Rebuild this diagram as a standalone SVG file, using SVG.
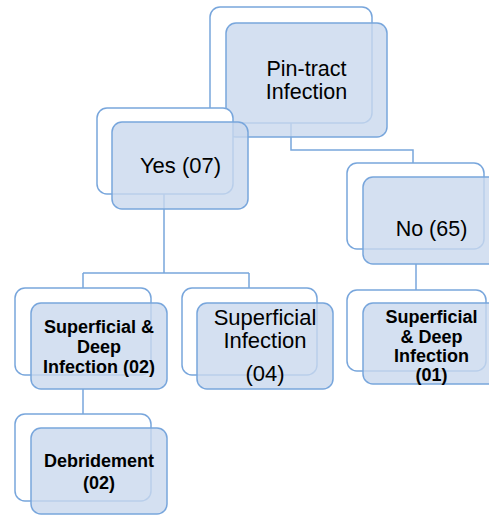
<svg xmlns="http://www.w3.org/2000/svg" width="489" height="515" viewBox="0 0 489 515">
<style>
.back{fill:#ffffff;stroke:#78a6dc;stroke-width:1.5}
.front{fill:#c9d8ed;fill-opacity:0.8;stroke:#78a6dc;stroke-width:1.5}
.conn{fill:none;stroke:#78a6dc;stroke-width:1.5}
text{font-family:"Liberation Sans",Arial,sans-serif;fill:#000;text-anchor:middle}
.b{font-weight:bold;font-size:18px}
</style>
<rect width="489" height="515" fill="#ffffff"/>
<g id="connectors">
<path class="conn" d="M291 123 V150 H413 V163"/>
<path class="conn" d="M164 194 V273 M83 273 H249 M83 273 V288 M249 273 V288"/>
<path class="conn" d="M416 264 V290"/>
<path class="conn" d="M83 389 V414"/>
</g>
<g id="pin-tract">
<rect class="back" x="210" y="7" width="162" height="116" rx="10"/>
<rect class="front" x="226" y="23" width="161" height="114" rx="10"/>
<text x="306.5" y="76" font-size="21.5">Pin-tract</text>
<text x="306.5" y="99" font-size="21.5">Infection</text>
</g>
<g id="yes">
<rect class="back" x="97" y="108" width="136" height="86" rx="10"/>
<rect class="front" x="112" y="122" width="136" height="87" rx="10"/>
<text x="180.5" y="173" font-size="22">Yes (07)</text>
</g>
<g id="no">
<rect class="back" x="347" y="163" width="137" height="86" rx="10"/>
<rect class="front" x="363" y="177" width="137" height="87" rx="10"/>
<text x="431.5" y="236" font-size="21.5">No (65)</text>
</g>
<g id="sd02">
<rect class="back" x="15" y="288" width="136" height="87" rx="10"/>
<rect class="front" x="31" y="303" width="136" height="86" rx="10"/>
<text class="b" x="99" y="333">Superficial &amp;</text>
<text class="b" x="99" y="353">Deep</text>
<text class="b" x="99" y="373">Infection (02)</text>
</g>
<g id="s04">
<rect class="back" x="182" y="288" width="135" height="87" rx="10"/>
<rect class="front" x="197" y="303" width="136" height="86" rx="10"/>
<text x="265" y="325" font-size="22">Superficial</text>
<text x="265" y="348" font-size="22">Infection</text>
<text x="265" y="381" font-size="22">(04)</text>
</g>
<g id="sd01">
<rect class="back" x="347" y="290" width="139" height="81" rx="10"/>
<rect class="front" x="363" y="303" width="137" height="81" rx="10"/>
<text class="b" x="431.5" y="323" font-size="18.5">Superficial</text>
<text class="b" x="431.5" y="343" font-size="18.5">&amp; Deep</text>
<text class="b" x="431.5" y="362" font-size="18.5">Infection</text>
<text class="b" x="431.5" y="381" font-size="18.5">(01)</text>
</g>
<g id="debridement">
<rect class="back" x="15" y="414" width="136" height="87" rx="10"/>
<rect class="front" x="31" y="428" width="136" height="86" rx="10"/>
<text class="b" x="99" y="467">Debridement</text>
<text class="b" x="99" y="489">(02)</text>
</g>
</svg>
